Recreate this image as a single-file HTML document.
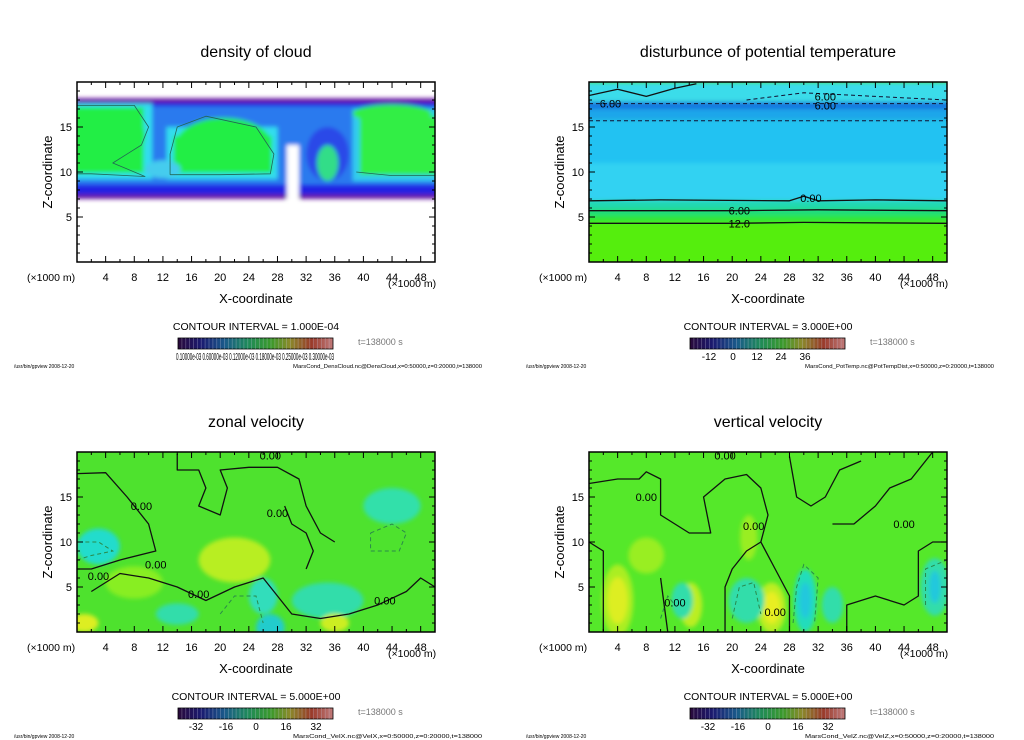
<!DOCTYPE html>
<html><head><meta charset="utf-8"><style>
html,body{margin:0;padding:0;background:#fff;width:1024px;height:740px;overflow:hidden}
svg{display:block;font-family:"Liberation Sans",sans-serif}
</style></head><body>
<svg id="root" width="1024" height="740" viewBox="0 0 1024 740" xmlns="http://www.w3.org/2000/svg">
<defs>
<filter id="blur" x="-5%" y="-5%" width="110%" height="110%"><feGaussianBlur stdDeviation="2.2"/></filter>
<linearGradient id="cbar" x1="0" x2="1" y1="0" y2="0">
<stop offset="0" stop-color="#2a0a3a"/><stop offset="0.15" stop-color="#1a1a70"/><stop offset="0.3" stop-color="#1a5a8a"/>
<stop offset="0.45" stop-color="#1e8a5a"/><stop offset="0.6" stop-color="#3a9a2a"/><stop offset="0.72" stop-color="#8a8a2a"/>
<stop offset="0.86" stop-color="#9a3a2a"/><stop offset="1" stop-color="#c07a7a"/></linearGradient>
<clipPath id="frameclip"><rect x="77" y="82" width="358" height="180"/></clipPath>
</defs>
</svg>
<script>
// ---- shared axis data ----
const xTicks = [4,8,12,16,20,24,28,32,36,40,44,48];
const zTicks = [5,10,15];
const xDomain = [0,50];
const zDomain = [0,20];
// ---- panel titles / intervals / colorbar labels ----
const titles = ["density of cloud","disturbunce of potential temperature","zonal velocity","vertical velocity"];
const intervals = ["1.000E-04","3.000E+00","5.000E+00","5.000E+00"];
const cbarLabels = [["0.10000e-03"],["-12","0","12","24","36"],["-32","-16","0","16","32"],["-32","-16","0","16","32"]];
const fileTags = ["MarsCond_DensCloud.nc@DensCloud,x=0:50000,z=0:20000,t=138000","MarsCond_PotTemp.nc@PotTempDist,x=0:50000,z=0:20000,t=138000","MarsCond_VelX.nc@VelX,x=0:50000,z=0:20000,t=138000","MarsCond_VelZ.nc@VelZ,x=0:50000,z=0:20000,t=138000"];
// ---- field data: background, bands [z0,z1,color], blocks [x0,z0,x1,z1,color], blobs [x,z,rx,rz,color], contours ----
const bgColors = ["#ffffff","#55ee11","#4ee22e","#55e82a"];
const bands = [
 [[7,18.2,"#6a1aa0"],[7.5,17.7,"#2424e4"],[8.6,17.3,"#2a7aee"]],
 [[0,4.4,"#55ee11"],[4.4,5.1,"#33e833"],[5.1,5.9,"#22dd77"],[5.9,6.8,"#22d8b0"],[6.8,11,"#30d2f2"],[11,15.8,"#22c2f2"],[15.8,17,"#1aa6ea"],[17,17.8,"#1474e0"],[17.8,20,"#3adcea"]],
 [],[]
];
const blocks = [
 [[0,9.2,10.5,17.6,"#33ddee"],[12.5,9.2,28,15,"#33ddee"],[38.5,9,50,17,"#33ccee"],[0,9.9,9.3,17.2,"#22ee44"],[13.5,9.9,27.2,14,"#22ee44"],[39.5,9.7,50,16.2,"#33ee44"],[29.3,7,31,13,"#ffffff"]],
 [],[],[]
];
const blobs = [
 [[4.5,14,5,3.2,"#22ee44"],[20.5,13,6.7,3,"#22ee44"],[12,10.3,2.5,1,"#44ccee"],[35,12,3,3,"#2a4ae8"],[35,11,1.5,2,"#33dd88"],[44,16.5,5.5,1,"#33ee44"]],
 [],
 [[3,9.5,3,2,"#22dccc"],[22,8,5,2.5,"#b8ee20"],[8,5.5,4,1.8,"#88ee22"],[27,0.5,2,1.5,"#22cccc"],[35,3.5,5,2,"#33ddaa"],[44,14,4,2,"#33e0aa"],[1,1,2,1,"#ddee22"],[36,1,2,1,"#ccee22"],[26,4,2,2,"#33ddbb"],[14,2,3,1.2,"#33ddaa"]],
 [[4,3.5,2.2,4,"#aaee22"],[4,3.5,1.4,2.6,"#ddee22"],[25.5,2.7,2,2.8,"#bbee22"],[25.5,2.7,1.2,1.8,"#e8ee22"],[30.2,3.5,1.6,3.5,"#22ddbb"],[30.2,3.5,0.8,2,"#22c8dd"],[48.3,5,2,3.2,"#33ddaa"],[48.3,5,0.8,1.8,"#22c8dd"],[22,3.5,2.5,2.5,"#33ddaa"],[14.2,3,1.6,2.5,"#bbee22"],[8,8.5,2.5,2,"#99ee22"],[22.3,10.5,1.2,2.5,"#99ee22"],[13,3.5,1.5,2,"#33ddaa"],[34,3,1.5,2,"#33ddaa"]]
];
const contours = [
 [[[0,17.4],[8,17.4],[10,15],[9,13],[5,11],[9.5,9.5],[2,9.8],[0,9.8]],[[13,9.7],[20,9.7],[27,9.8],[27.5,12],[25,15],[18,16.2],[14,15],[13,12],[13,9.7]],[[39,10],[44,9.6],[50,9.6]]],
 [[[0,6.8],[10,6.9],[28,6.8],[30,7.3],[32,6.8],[40,6.9],[50,6.8]],[[0,5.7],[20,5.7],[32,5.8],[50,5.7]],[[0,4.3],[20,4.3],[30,4.4],[50,4.3]],[[0,18.5],[4,19.2],[8,18.4],[12,19.3],[15,19.8]]],
 [[[0,17.6],[4,17.7],[7,15],[10,12],[11,9],[6,8],[2,7],[0,7]],[[14,19.8],[14,18],[17,18],[18,16],[17,14],[20,13],[21,16],[20,18],[24,18.3],[28,18.3],[31,17],[32,14],[34,11],[36,10]],[[2,4.5],[6,6.5],[10,6],[14,5],[18,3.5],[22,5],[26,6],[28,4],[30,2],[34,1.5],[38,2],[42,3],[46,4.5],[48,6],[50,5]],[[29,14],[30,12],[32,11],[33,9],[32,7]]],
 [[[0,16.5],[4,17],[7,17],[8,17.8],[10,17],[10,13],[14,11],[17,11],[16,15],[19,17],[22,17.5],[24,16],[25,13],[24,10],[26,7],[28,4],[28,0]],[[0,10],[2,9],[2,0]],[[10,6],[11,0]],[[19,0],[19,5],[20,7],[22,9],[24,10]],[[36,0],[36,3],[40,4],[44,3],[46,4],[46,9],[48,10],[50,10]],[[34,12],[37,12],[40,14],[42,16],[45,17],[48,20]],[[28,19.5],[29,15],[31,14],[33,15],[35,18],[38,19]]]
];
const dashed = [
 [],
 [[[0,17.6],[50,17.6]],[[0,15.7],[50,15.7]],[[22,18],[30,18.8],[40,18.4],[50,18]]],
 [[[0,8],[2,8.5],[5,9],[3,10],[0,10]],[[41,11],[44,12],[46,11],[45,9],[41,9],[41,11]],[[20,2],[22,4],[25,4],[26,1]]],
 [[[28.5,1],[29,5],[30,7.5],[32,6],[31.5,1]],[[47,3],[47,7],[50,8]],[[10,1.5],[11,4],[12,3]],[[20,1.5],[21,5],[23,5.5],[24,2]]]
];
const cloudLabels = [[],[["6.00",21,5.7],["12.0",21,4.3],["6.00",33,18.4],["6.00",33,17.4],["0.00",31,7.1],["6.00",3,17.6]],[["0.00",17,4.2],["0.00",11,7.5],["0.00",9,14],["0.00",28,13.2],["0.00",27,19.6],["0.00",43,3.5],["0.00",3,6.2]],[["0.00",26,2.2],["0.00",12,3.3],["0.00",23,11.8],["0.00",44,12],["0.00",8,15],["0.00",19,19.6]]];

const NS="http://www.w3.org/2000/svg";
const root=document.getElementById('root');
function mk(tag,attrs,parent){const e=document.createElementNS(NS,tag);for(const k in attrs)e.setAttribute(k,attrs[k]);(parent||root).appendChild(e);return e;}
const X0=77,X1=435,Y0=262,Y1=82;
const sx=v=>X0+(v-xDomain[0])/(xDomain[1]-xDomain[0])*(X1-X0);
const sz=v=>Y0-(v-zDomain[0])/(zDomain[1]-zDomain[0])*(Y0-Y1);
function txt(g,s,x,y,size,anchor,fill,extra){const t=mk('text',Object.assign({x:x,y:y,'font-size':size,'text-anchor':anchor||'start',fill:fill||'#000'},extra||{}),g);t.textContent=s;return t;}

const offsets=[[0,0],[512,0],[0,370],[512,370]];
for(let p=0;p<4;p++){
 const g=mk('g',{transform:`translate(${offsets[p][0]},${offsets[p][1]})`});
 
 
 const tt=txt(g,titles[p],256,57,16,'middle');
 
 
 const field=mk('g',{'clip-path':'url(#frameclip)'},g);
 
 
 mk('rect',{x:X0,y:Y1,width:X1-X0,height:Y0-Y1,fill:bgColors[p]},field);
 const fg=mk('g',{filter:'url(#blur)'},field);
 bands[p].forEach(b=>{const r=mk('rect',{x:X0-5,y:sz(b[1]),width:X1-X0+10,height:sz(b[0])-sz(b[1]),fill:b[2]},fg);
  
  });
 blocks[p].forEach(b=>{const r=mk('rect',{x:sx(b[0])-(b[0]===0?5:0),y:sz(b[3]),width:sx(b[2])-sx(b[0])+(b[0]===0?5:0)+(b[2]===50?5:0),height:sz(b[1])-sz(b[3]),fill:b[4]},fg);
  
  });
 blobs[p].forEach(b=>{const e=mk('ellipse',{cx:sx(b[0]),cy:sz(b[1]),rx:sx(b[2])-sx(0),ry:sz(0)-sz(b[3]),fill:b[4]},fg);
  
  });
 contours[p].forEach(c=>{const l=mk('polyline',{points:c.map(q=>sx(q[0])+','+sz(q[1])).join(' '),fill:'none',stroke:p===0?'#226655':'#111','stroke-width':p===0?0.8:1.3,'stroke-linejoin':'round'},field);
  
  });
 dashed[p].forEach(c=>{const l=mk('polyline',{points:c.map(q=>sx(q[0])+','+sz(q[1])).join(' '),fill:'none',stroke:p==1?'#113':'#2a8a4a','stroke-width':1,'stroke-dasharray':'4,3'},field);
  
  });
 cloudLabels[p].forEach(c=>{const t=txt(field,c[0],sx(c[1]),sz(c[2])+4,11,'middle','#000');
  
  });
 const fr=mk('rect',{x:X0,y:Y1,width:X1-X0,height:Y0-Y1,fill:'none',stroke:'#000','stroke-width':1.5},g);
 
 
 for(let v=2;v<50;v+=2){const major=v%4===0;const L=major?6:3;
  mk('line',{x1:sx(v),x2:sx(v),y1:Y0,y2:Y0-L,stroke:'#000','stroke-width':1},g);
  mk('line',{x1:sx(v),x2:sx(v),y1:Y1,y2:Y1+L,stroke:'#000','stroke-width':1},g);}
 for(let v=1;v<20;v++){const major=v%5===0;const L=major?6:3;
  mk('line',{x1:X0,x2:X0+L,y1:sz(v),y2:sz(v),stroke:'#000','stroke-width':1},g);
  mk('line',{x1:X1,x2:X1-L,y1:sz(v),y2:sz(v),stroke:'#000','stroke-width':1},g);}
 xTicks.forEach(v=>{const t=txt(g,String(v),sx(v),281,11,'middle');
  
  });
 zTicks.forEach(v=>{const t=txt(g,String(v),72,sz(v)+4,11,'end');
  
  });
 const u1=txt(g,'(×1000 m)',27,281,10.5,'start');
 const u2=txt(g,'(×1000 m)',388,287,10.5,'start');
 const xl=txt(g,'X-coordinate',256,303,13,'middle');
 const yl=txt(g,'Z-coordinate',0,0,13,'middle',null,{transform:'translate(52,172) rotate(-90)'});
 const ci=txt(g,'CONTOUR INTERVAL = '+intervals[p],256,330,10.5,'middle');
 const cb=mk('g',{},g);
 mk('rect',{x:178,y:338,width:155,height:11,fill:'url(#cbar)',stroke:'#000','stroke-width':0.8},cb);
 for(let i=1;i<40;i++)mk('line',{x1:178+i*155/40,x2:178+i*155/40,y1:338,y2:349,stroke:'rgba(200,200,220,0.35)','stroke-width':0.8},cb);
 const tl=txt(g,'t=138000 s',358,345,9,'start','#777');
 const labs=cbarLabels[p];
 if(p===0){const t=txt(g,'0.10000e-03 0.60000e-03 0.12000e-03 0.18000e-03 0.25000e-03 0.30000e-03',255,360,10,'middle',null,{textLength:158,lengthAdjust:'spacingAndGlyphs'});}
 else labs.forEach((s,i)=>{const pos=p===1?[197,221,245,269,293][i]:[196,226,256,286,316][i];const t=txt(g,s,pos,360,10,'middle');
  
  });
 const f1=txt(g,'/usr/bin/gpview   2008-12-20',14,368,5,'start');
 const f2=txt(g,fileTags[p],293,368,5,'start',null,{textLength:189,lengthAdjust:'spacingAndGlyphs'});
}
</script>
</body></html>
